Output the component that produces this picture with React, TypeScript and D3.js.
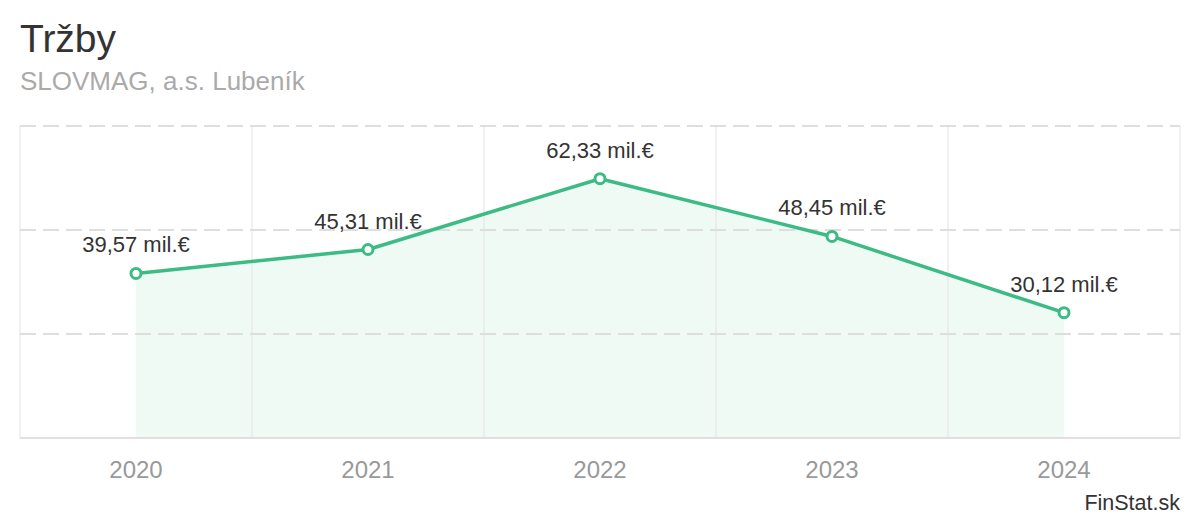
import React from "react";
import * as d3 from "d3";

const years = ["2020", "2021", "2022", "2023", "2024"];
const revenue = [39.57, 45.31, 62.33, 48.45, 30.12];
const yTicks = [0, 25, 50, 75];
const title = "Tržby";
const subtitle = "SLOVMAG, a.s. Lubeník";
const credit = "FinStat.sk";

const W = 1200;
const H = 520;
const left = 20;
const right = 1180;
const top = 126;
const bottom = 438;
const green = "#3dbb85";
const font = "'Liberation Sans', Arial, Helvetica, sans-serif";

const fmt = (v: number) => v.toFixed(2).replace(".", ",") + " mil.€";

export default function App() {
  const x = d3.scaleBand<string>().domain(years).range([left, right]);
  const y = d3.scaleLinear().domain([0, 75]).range([bottom, top]);
  const cx = (d: string) => (x(d) ?? 0) + x.bandwidth() / 2;
  const pts = years.map((yr, i) => ({ yr, v: revenue[i] }));
  const line = d3
    .line<{ yr: string; v: number }>()
    .x((d) => cx(d.yr))
    .y((d) => y(d.v));
  const area = d3
    .area<{ yr: string; v: number }>()
    .x((d) => cx(d.yr))
    .y0(y(0))
    .y1((d) => y(d.v));
  const bounds = [...years.map((d) => x(d) ?? 0), right];

  return (
    <svg
      width={W}
      height={H}
      style={{ position: "absolute", left: 0, top: 0, background: "#fff" }}
      fontFamily={font}
    >
      <rect x={0} y={0} width={W} height={H} fill="#fff" />
      <text x={20} y={52} fontSize={39} fill="#333">
        {title}
      </text>
      <text x={20} y={90} fontSize={26} fill="#aaa">
        {subtitle}
      </text>
      <path d={area(pts) ?? ""} fill="#effaf5" />
      {bounds.map((b, i) => (
        <line key={"v" + i} x1={b} x2={b} y1={top} y2={bottom} stroke="#e3e3e3" strokeWidth={1} />
      ))}
      {yTicks
        .filter((t) => t !== 0)
        .map((t) => (
          <line
            key={"h" + t}
            x1={left}
            x2={right}
            y1={y(t)}
            y2={y(t)}
            stroke="#dedede"
            strokeWidth={2}
            strokeDasharray="16,7"
          />
        ))}
      <line x1={left} x2={right} y1={y(0)} y2={y(0)} stroke="#e0e0e0" strokeWidth={2} />
      <path d={line(pts) ?? ""} fill="none" stroke={green} strokeWidth={3.5} strokeLinejoin="round" />
      {pts.map((d) => (
        <circle key={"c" + d.yr} cx={cx(d.yr)} cy={y(d.v)} r={5} fill="#fff" stroke={green} strokeWidth={3} />
      ))}
      {pts.map((d) => (
        <text key={"l" + d.yr} x={cx(d.yr)} y={y(d.v) - 21} fontSize={22} fill="#333" textAnchor="middle">
          {fmt(d.v)}
        </text>
      ))}
      {years.map((d) => (
        <text key={"x" + d} x={cx(d)} y={478} fontSize={24} fill="#999" textAnchor="middle">
          {d}
        </text>
      ))}
      <text x={1180} y={510} fontSize={21.5} fill="#333" textAnchor="end">
        {credit}
      </text>
    </svg>
  );
}
